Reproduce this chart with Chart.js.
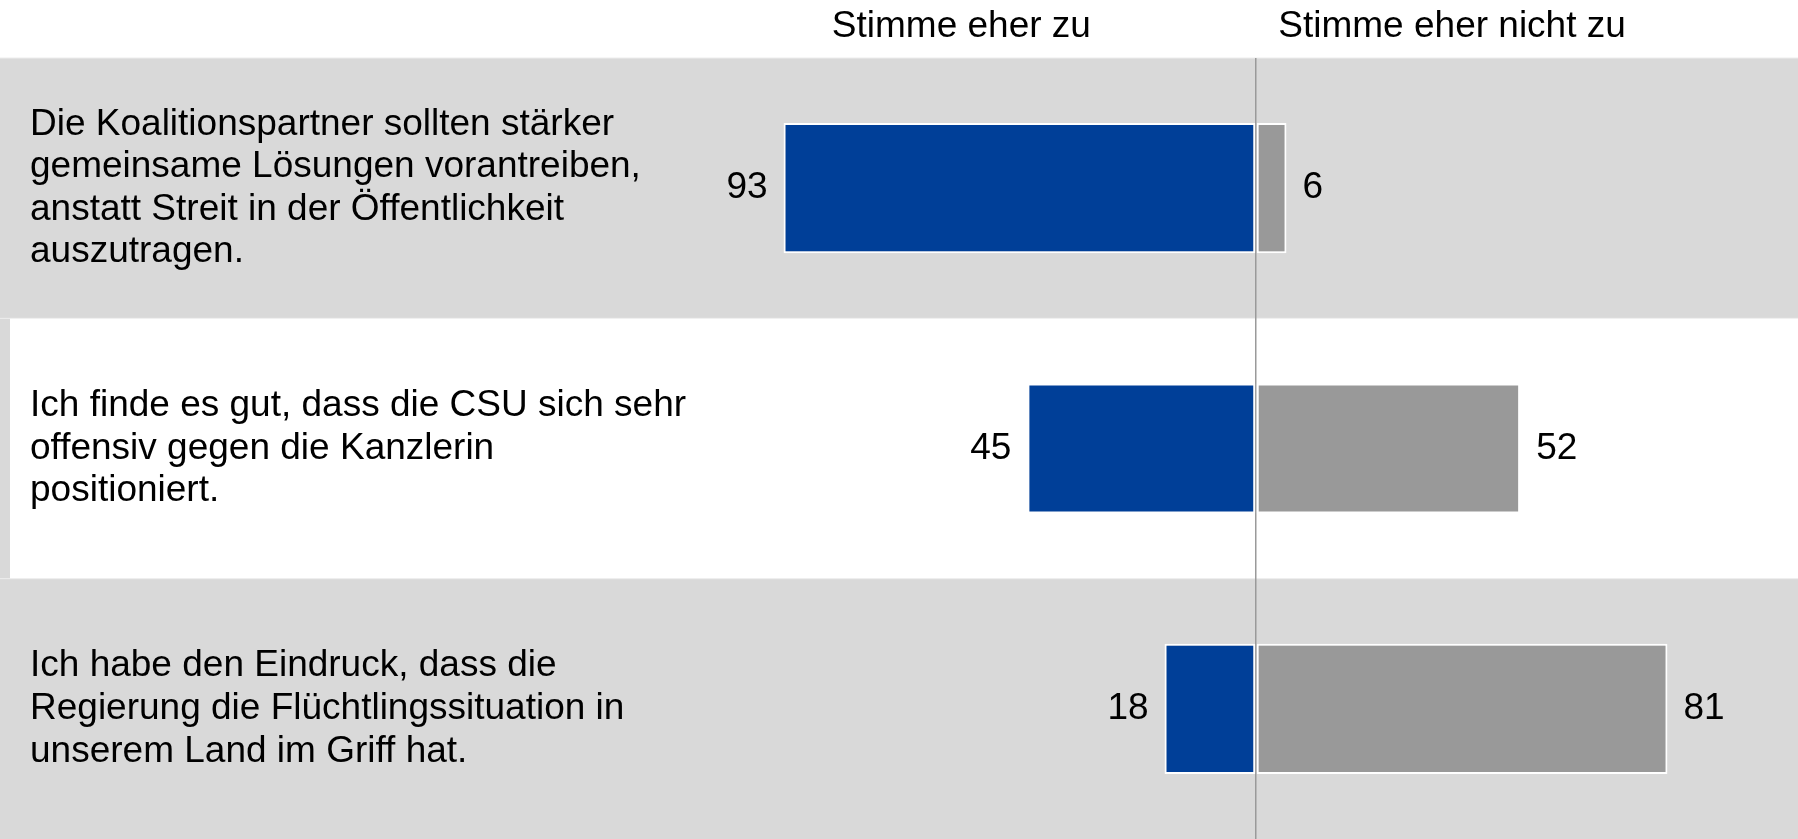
<!DOCTYPE html>
<html>
<head>
<meta charset="utf-8">
<script src="https://cdn.jsdelivr.net/npm/chart.js@4/dist/chart.umd.min.js"></script>
<style>
  html, body { margin: 0; padding: 0; background: #fff; }
  #wrap { width: 1798px; height: 839px; position: relative; }
</style>
</head>
<body>
<div id="wrap"><canvas id="chart"></canvas></div>
<script>
const statements = [
  ["Die Koalitionspartner sollten stärker", "gemeinsame Lösungen vorantreiben,", "anstatt Streit in der Öffentlichkeit", "auszutragen."],
  ["Ich finde es gut, dass die CSU sich sehr", "offensiv gegen die Kanzlerin", "positioniert."],
  ["Ich habe den Eindruck, dass die", "Regierung die Flüchtlingssituation in", "unserem Land im Griff hat."]
];
const agree = [93, 45, 18];
const disagree = [6, 52, 81];
const headers = ["Stimme eher zu", "Stimme eher nicht zu"];

const FONT = '"Liberation Sans", Arial, sans-serif';
const BLUE = "#003F98";
const GREY = "#999999";
const BAND = "#D9D9D9";

// grey/white row bands behind the bars
const bandsPlugin = {
  id: "bands",
  beforeDraw(chart) {
    const { ctx, width, height } = chart;
    const y = chart.scales.y;
    const half = (y.getPixelForValue(1) - y.getPixelForValue(0)) / 2;
    ctx.save();
    ctx.fillStyle = "#fff";
    ctx.fillRect(0, 0, width, height);
    statements.forEach((_, i) => {
      const c = y.getPixelForValue(i);
      if (i % 2 === 0) {
        ctx.fillStyle = BAND;
        ctx.fillRect(0, c - half, width, half * 2);
      } else {
        ctx.fillStyle = BAND;
        ctx.fillRect(0, c - half, 10, half * 2);
        ctx.fillStyle = "#fff";
        ctx.fillRect(10, c - half, width - 10, half * 2);
      }
      ctx.fillStyle = "#EEEEEE";
      ctx.fillRect(0, c - half - 0.5, width, 1);
    });
    ctx.restore();
  }
};

// column headers and value labels
const labelsPlugin = {
  id: "labels",
  afterDatasetsDraw(chart) {
    const { ctx } = chart;
    const x = chart.scales.x;
    ctx.save();
    ctx.font = "37px " + FONT;
    ctx.fillStyle = "#000";
    ctx.textAlign = "center";
    ctx.textBaseline = "alphabetic";
    ctx.fillText(headers[0], x.getPixelForValue(-58), 37);
    ctx.fillText(headers[1], x.getPixelForValue(38.6), 37);

    ctx.textBaseline = "middle";
    chart.data.datasets.forEach((ds, di) => {
      chart.getDatasetMeta(di).data.forEach((bar, i) => {
        const v = Math.abs(ds.data[i]);
        if (di === 0) {
          ctx.textAlign = "right";
          ctx.fillText(String(v), bar.x - 16, bar.y);
        } else {
          ctx.textAlign = "left";
          ctx.fillText(String(v), bar.x + 16, bar.y);
        }
      });
    });
    ctx.restore();
  }
};

new Chart(document.getElementById("chart"), {
  type: "bar",
  data: {
    labels: statements,
    datasets: [
      {
        label: headers[0],
        data: agree.map(v => -v),
        backgroundColor: BLUE,
        borderColor: "#fff",
        borderWidth: 2,
        borderSkipped: false
      },
      {
        label: headers[1],
        data: disagree,
        backgroundColor: GREY,
        borderColor: "#fff",
        borderWidth: 2,
        borderSkipped: false
      }
    ]
  },
  options: {
    indexAxis: "y",
    responsive: true,
    maintainAspectRatio: false,
    animation: false,
    layout: { padding: { top: 58, left: 30, right: 0, bottom: 0 } },
    datasets: { bar: { categoryPercentage: 1, barPercentage: 0.5 } },
    plugins: { legend: { display: false }, tooltip: { enabled: false } },
    scales: {
      x: {
        stacked: true,
        min: -100,
        max: 106.7,
        ticks: { display: false, stepSize: 50 },
        border: { display: false },
        grid: {
          drawTicks: false,
          tickLength: 0,
          lineWidth: 1.5,
          color: ctx => (ctx.tick && ctx.tick.value === 0 ? "#9A9A9A" : "transparent")
        },
        afterFit(scale) {
          scale.height = 0;
          scale.paddingLeft = 0;
          scale.paddingRight = 0;
        }
      },
      y: {
        stacked: true,
        grid: { display: false },
        border: { display: false },
        ticks: {
          crossAlign: "far",
          padding: 0,
          color: "#000",
          font: { family: FONT, size: 37, lineHeight: 1.15 }
        },
        afterFit(scale) {
          scale.width = 718;
          scale.paddingTop = 0;
          scale.paddingBottom = 0;
        }
      }
    }
  },
  plugins: [bandsPlugin, labelsPlugin]
});
</script>
</body>
</html>
